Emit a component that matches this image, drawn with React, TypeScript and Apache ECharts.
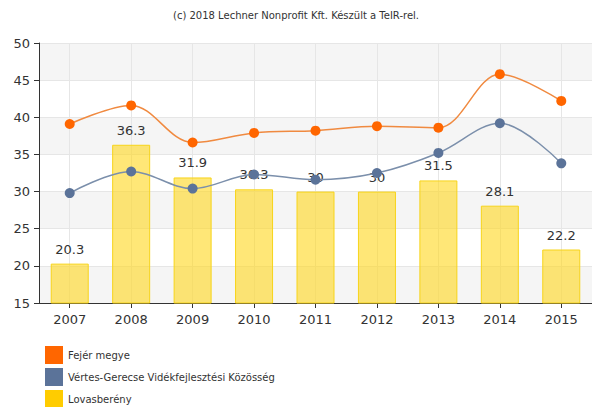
import React, { useEffect, useRef } from "react";
import * as echarts from "echarts";

const categories = ["2007", "2008", "2009", "2010", "2011", "2012", "2013", "2014", "2015"];
const fejer = [39.1, 41.6, 36.6, 37.9, 38.2, 38.8, 38.6, 45.8, 42.2];
const vertes = [29.8, 32.7, 30.4, 32.3, 31.6, 32.5, 35.2, 39.2, 33.8];
const lovas = [20.3, 36.3, 31.9, 30.3, 30, 30, 31.5, 28.1, 22.2];
const seriesNames = ["Fejér megye", "Vértes-Gerecse Vidékfejlesztési Közösség", "Lovasberény"];
const titleText = "(c) 2018 Lechner Nonprofit Kft. Készült a TeIR-rel.";

export default function App() {
  const ref = useRef<HTMLDivElement>(null);
  useEffect(() => {
    const chart = echarts.init(ref.current!, null, { renderer: "svg" });
    const font = "DejaVu Sans, Verdana, sans-serif";
    chart.setOption({
      animation: false,
      textStyle: { fontFamily: font },
      title: {
        text: titleText,
        left: "center",
        top: 5,
        textStyle: { fontSize: 10, fontWeight: "normal", color: "#333", fontFamily: font },
      },
      legend: {
        orient: "vertical",
        left: 45,
        top: 346,
        padding: 0,
        height: 80,
        itemWidth: 18,
        itemHeight: 18,
        itemGap: 4,
        textStyle: { fontSize: 10, color: "#333", fontFamily: font },
        data: [
          { name: seriesNames[0], icon: "rect", itemStyle: { color: "#ff6600", opacity: 1 } },
          { name: seriesNames[1], icon: "rect", itemStyle: { color: "#5b7399", opacity: 1 } },
          { name: seriesNames[2], icon: "rect", itemStyle: { color: "#ffcc00", opacity: 1, borderWidth: 0 } },
        ],
      },
      grid: { left: 39, right: -5, top: 43, bottom: 104, containLabel: false },
      xAxis: {
        type: "category",
        data: categories,
        boundaryGap: true,
        axisLine: { show: true, lineStyle: { color: "#333", width: 1 } },
        axisTick: { show: true, alignWithLabel: true, length: 5, lineStyle: { color: "#333" } },
        axisLabel: { fontSize: 13, color: "#333", margin: 10, fontFamily: font },
        splitLine: { show: true, alignWithLabel: true, lineStyle: { color: "#e6e6e6" } },
      },
      yAxis: {
        type: "value",
        min: 15,
        max: 50,
        interval: 5,
        axisLine: { show: true, lineStyle: { color: "#333", width: 1 } },
        axisTick: { show: true, length: 5, lineStyle: { color: "#333" } },
        axisLabel: { fontSize: 13, color: "#333", margin: 9, fontFamily: font },
        splitLine: { show: true, lineStyle: { color: "#e6e6e6" } },
        splitArea: { show: true, areaStyle: { color: ["#f5f5f5", "#ffffff"] } },
      },
      series: [
        {
          name: seriesNames[2],
          type: "bar",
          data: lovas,
          barWidth: 38,
          itemStyle: { color: "rgba(255,214,20,0.58)", borderColor: "#f7d41a", borderWidth: 1 },
          label: {
            show: true,
            position: "top",
            distance: 8,
            fontSize: 13,
            color: "#333",
            fontFamily: font,
          },
          z: 1,
        },
        {
          name: seriesNames[1],
          type: "line",
          data: vertes,
          smooth: 0.35,
          symbol: "circle",
          symbolSize: 10,
          lineStyle: { color: "#7b8fab", width: 1.5 },
          itemStyle: { color: "#5b7399" },
          z: 2,
        },
        {
          name: seriesNames[0],
          type: "line",
          data: fejer,
          smooth: 0.35,
          symbol: "circle",
          symbolSize: 10,
          lineStyle: { color: "#f08a40", width: 1.5 },
          itemStyle: { color: "#ff6600" },
          z: 3,
        },
      ],
    });
    return () => chart.dispose();
  }, []);
  return <div ref={ref} style={{ width: 592, height: 407, position: "absolute", left: 0, top: 0 }} />;
}
